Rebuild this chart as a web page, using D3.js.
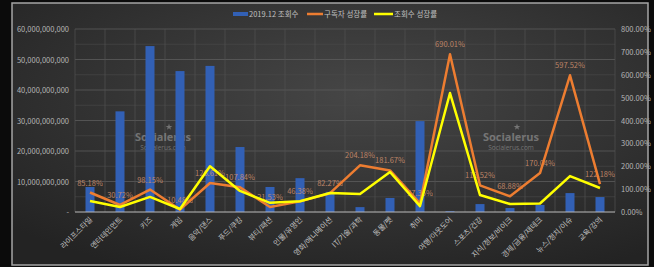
<!DOCTYPE html>
<html>
<head>
<meta charset="utf-8">
<script src="https://cdn.jsdelivr.net/npm/d3@7"></script>
<style>
body { margin: 0; background: #0b0b0b; }
svg { display: block; }
text { font-family: "Noto Sans CJK KR", "Noto Sans", sans-serif; }
</style>
</head>
<body>
<svg></svg>
<script>
// categories and series
var categories = ["라이프스타일", "엔터테인먼트", "키즈", "게임", "음악/댄스", "푸드/쿠킹", "뷰티/패션",
  "인물/유명인", "영화/애니메이션", "IT/기술/과학", "동물/펫", "취미", "여행/아웃도어", "스포츠/건강",
  "지식/정보/비이크", "경제/금융/재테크", "뉴스/정치/이슈", "교육/강의"];
var views = [8.2e9, 33e9, 54.4e9, 46.2e9, 47.9e9, 21.3e9, 8.2e9, 11.1e9, 6.6e9, 1.6e9, 4.6e9, 29.8e9,
  0.3e9, 2.6e9, 1.3e9, 2.3e9, 6.2e9, 4.9e9];
var subGrowth = [85.18, 30.72, 98.15, 10.48, 126.61, 107.84, 21.53, 46.38, 82.27, 204.18, 181.67, 37.35,
  690.01, 116.52, 68.88, 170.04, 597.52, 122.18];
var viewGrowth = [48, 22, 66, 13, 200, 92, 40, 47, 83, 79, 175, 26, 520, 74, 35, 37, 157, 105];
var leftTicks = [0, 10e9, 20e9, 30e9, 40e9, 50e9, 60e9];
var rightTicks = [0, 100, 200, 300, 400, 500, 600, 700, 800];
var legendNames = ["2019.12 조회수", "구독자 성장률", "조회수 성장률"];

var svgWidth = 654, svgHeight = 267;
var plot = { left: 75, right: 615, top: 29, bottom: 212 };
var colors = { bar: "#3260b5", orange: "#ed7d31", yellow: "#ffff00" };

var svg = d3.select("svg").attr("width", svgWidth).attr("height", svgHeight);

// background gradient of the chart frame
var defs = svg.append("defs");
var grad = defs.append("radialGradient").attr("id", "bg")
  .attr("cx", "55%").attr("cy", "35%").attr("r", "75%");
grad.append("stop").attr("offset", "0%").attr("stop-color", "#464646");
grad.append("stop").attr("offset", "100%").attr("stop-color", "#232323");

svg.append("rect")
  .attr("x", 12).attr("y", 3).attr("width", 636).attr("height", 262)
  .attr("fill", "url(#bg)").attr("stroke", "#a5a5a5").attr("stroke-width", 1.5);

var x = d3.scaleBand().domain(categories).range([plot.left, plot.right]);
var yL = d3.scaleLinear().domain([0, 60e9]).range([plot.bottom, plot.top]);
var yR = d3.scaleLinear().domain([0, 800]).range([plot.bottom, plot.top]);

// grid
var grid = svg.append("g");
grid.selectAll(".minor").data(d3.range(5e9, 60e9, 10e9)).enter().append("line")
  .attr("x1", plot.left).attr("x2", plot.right)
  .attr("y1", function(d) { return yL(d); }).attr("y2", function(d) { return yL(d); })
  .attr("stroke", "#4a4a4a").attr("stroke-width", 0.6);
grid.selectAll(".major").data(leftTicks.slice(1)).enter().append("line")
  .attr("x1", plot.left).attr("x2", plot.right)
  .attr("y1", function(d) { return yL(d); }).attr("y2", function(d) { return yL(d); })
  .attr("stroke", "#5c5c5c").attr("stroke-width", 0.8);
grid.selectAll(".vert").data(categories).enter().append("line")
  .attr("x1", function(d) { return x(d); }).attr("x2", function(d) { return x(d); })
  .attr("y1", plot.top).attr("y2", plot.bottom)
  .attr("stroke", "#505050").attr("stroke-width", 0.7);
grid.append("line")
  .attr("x1", plot.right).attr("x2", plot.right).attr("y1", plot.top).attr("y2", plot.bottom)
  .attr("stroke", "#505050").attr("stroke-width", 0.7);

// watermarks
[[163, 141], [511, 141]].forEach(function(p) {
  var g = svg.append("g").attr("transform", "translate(" + p[0] + "," + p[1] + ")").attr("fill", "#b0b0b0").attr("opacity", 0.5);
  g.append("text").attr("text-anchor", "middle").attr("font-size", 11).attr("font-weight", "bold")
    .style("font-family", "Open Sans, sans-serif").text("Socialerus");
  g.append("text").attr("text-anchor", "middle").attr("y", 8.5).attr("font-size", 6.5)
    .style("font-family", "Open Sans, sans-serif").text("Socialerus.com");
  g.append("path").attr("transform", "translate(6,-14)")
    .attr("d", d3.symbol(d3.symbolStar, 14)());
});

// bars
svg.append("g").selectAll("rect").data(views).enter().append("rect")
  .attr("x", function(d, i) { return x(categories[i]) + x.bandwidth() * 0.35; })
  .attr("width", x.bandwidth() * 0.3)
  .attr("y", function(d) { return yL(d); })
  .attr("height", function(d) { return plot.bottom - yL(d); })
  .attr("fill", colors.bar);

// axis baseline
svg.append("line").attr("x1", plot.left).attr("x2", plot.right)
  .attr("y1", plot.bottom).attr("y2", plot.bottom).attr("stroke", "#bbb").attr("stroke-width", 1);

// data labels for subscriber growth (sit under the lines, as in the source)
svg.append("g").selectAll("text").data(subGrowth).enter().append("text")
  .attr("x", function(d, i) { return x(categories[i]) + x.bandwidth() / 2; })
  .attr("y", function(d) { return yR(d) - 7; })
  .attr("text-anchor", "middle").attr("font-size", 7.5)
  .attr("fill", "#d39270").attr("opacity", 0.85)
  .text(function(d) { return d.toFixed(2) + "%"; });

// lines
var line = function(arr) {
  return d3.line()
    .x(function(d, i) { return x(categories[i]) + x.bandwidth() / 2; })
    .y(function(d) { return yR(d); })(arr);
};
svg.append("path").attr("d", line(subGrowth)).attr("fill", "none")
  .attr("stroke", colors.orange).attr("stroke-width", 2.5).attr("stroke-linejoin", "round");
svg.append("path").attr("d", line(viewGrowth)).attr("fill", "none")
  .attr("stroke", colors.yellow).attr("stroke-width", 2.5).attr("stroke-linejoin", "round");

// left axis
svg.append("g").selectAll("text").data(leftTicks).enter().append("text")
  .attr("x", 69).attr("y", function(d) { return yL(d) + 3; })
  .attr("text-anchor", "end").attr("font-size", 7.5).attr("fill", "#b5b5b5")
  .text(function(d) { return d === 0 ? "-" : d3.format(",")(d); });

// right axis
svg.append("g").selectAll("text").data(rightTicks).enter().append("text")
  .attr("x", 621).attr("y", function(d) { return yR(d) + 3; })
  .attr("font-size", 7.5).attr("fill", "#b5b5b5")
  .text(function(d) { return d.toFixed(2) + "%"; });

// category labels
svg.append("g").selectAll("text").data(categories).enter().append("text")
  .attr("transform", function(d) {
    return "translate(" + (x(d) + x.bandwidth() / 2 + 3) + "," + (plot.bottom + 8) + ") rotate(-45)";
  })
  .attr("text-anchor", "end").attr("font-size", 7.5).attr("fill", "#c0c0c0")
  .text(function(d) { return d; });

// legend
var legend = svg.append("g").attr("transform", "translate(0,15)");
var legendItems = [
  { x: 233, color: colors.bar, w: 15, h: 4 },
  { x: 307, color: colors.orange, w: 16, h: 2.5 },
  { x: 374, color: colors.yellow, w: 19, h: 2.5 }
];
legendItems.forEach(function(it, i) {
  legend.append("rect").attr("x", it.x).attr("y", -it.h / 2 - 1).attr("width", it.w).attr("height", it.h)
    .attr("fill", it.color);
  legend.append("text").attr("x", it.x + it.w + 1).attr("y", 2).attr("font-size", 7.5)
    .attr("fill", "#c0c0c0").text(legendNames[i]);
});
</script>
</body>
</html>
